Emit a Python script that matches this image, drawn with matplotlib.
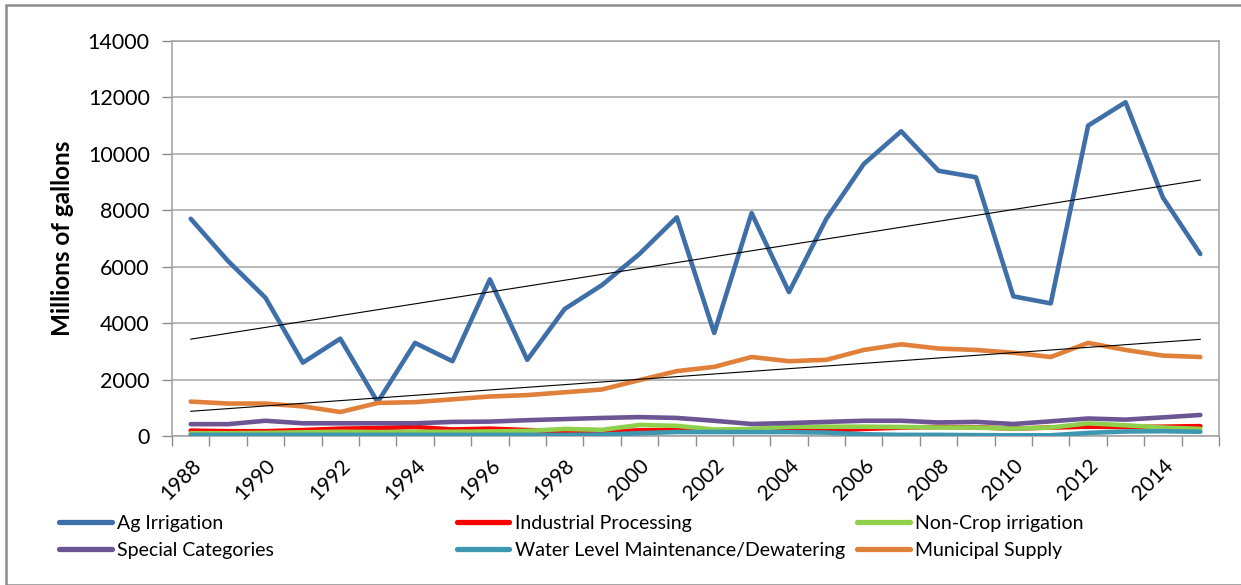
import numpy as np
import matplotlib.pyplot as plt
from matplotlib.patches import Rectangle
from matplotlib.lines import Line2D

# ============ data ============
YEARS = list(range(1988, 2016))

AG_IRRIGATION = [7700, 6200, 4900, 2600, 3450, 1200, 3300, 2650, 5550, 2700,
                 4500, 5350, 6450, 7750, 3650, 7900, 5100, 7700, 9640, 10800,
                 9400, 9170, 4950, 4700, 11000, 11830, 8450, 6450]
INDUSTRIAL = [190, 170, 170, 210, 260, 280, 320, 230, 260, 210,
              170, 160, 200, 210, 200, 190, 180, 190, 250, 300,
              320, 310, 260, 300, 330, 320, 330, 350]
NON_CROP = [100, 100, 110, 130, 150, 140, 150, 150, 160, 180,
            250, 220, 390, 360, 230, 250, 330, 330, 330, 320,
            300, 300, 260, 300, 450, 380, 300, 250]
SPECIAL = [420, 420, 540, 450, 450, 450, 450, 500, 510, 560,
           600, 640, 670, 640, 540, 425, 460, 500, 540, 540,
           480, 500, 425, 520, 620, 580, 660, 745]
WATER_LEVEL = [40, 40, 40, 40, 40, 40, 40, 40, 40, 40,
               40, 50, 100, 140, 140, 140, 140, 120, 60, 40,
               40, 30, 25, 25, 110, 160, 170, 150]
MUNICIPAL = [1220, 1150, 1150, 1050, 850, 1170, 1200, 1300, 1400, 1450,
             1550, 1650, 1980, 2300, 2450, 2800, 2650, 2700, 3050, 3250,
             3100, 3050, 2950, 2800, 3300, 3050, 2850, 2800]

SERIES = [
    ("Ag Irrigation", AG_IRRIGATION, "#3f6fa8"),
    ("Industrial Processing", INDUSTRIAL, "#ff0000"),
    ("Non-Crop irrigation", NON_CROP, "#8fcf4c"),
    ("Special Categories", SPECIAL, "#6b5593"),
    ("Water Level Maintenance/Dewatering", WATER_LEVEL, "#3e97b0"),
    ("Municipal Supply", MUNICIPAL, "#e0803a"),
]
TREND_SERIES = [AG_IRRIGATION, MUNICIPAL]

plt.rcParams['font.family'] = ['Lato', 'DejaVu Sans']

W, H = 1241, 585
fig = plt.figure(figsize=(W / 100, H / 100), dpi=100)

# outer chart border (right/bottom edges fall outside the crop)
fig.patches.append(Rectangle((6 / W, 0), 2, 1 - 5 / H, transform=fig.transFigure,
                             fill=False, edgecolor="#8c8c8c", linewidth=1.8))

ax = fig.add_axes([172 / W, 1 - 436 / H, (1219 - 172) / W, (436 - 41) / H])

x = np.arange(len(YEARS))
for name, vals, color in SERIES:
    ax.plot(x, vals, color=color, linewidth=3.3, solid_capstyle='round',
            solid_joinstyle='round', label=name, zorder=3)

# linear trend lines
for vals in TREND_SERIES:
    k, b = np.polyfit(x, vals, 1)
    ax.plot(x, k * x + b, color="black", linewidth=0.8, zorder=4)

ax.set_xlim(-0.5, len(YEARS) - 0.5)
ax.set_ylim(0, 14000)
ax.set_yticks(np.arange(0, 14001, 2000))
ax.tick_params(axis='y', labelsize=15.5, colors="#8c8c8c", labelcolor="black",
               length=7, width=1, pad=9)
ax.yaxis.grid(True, color="#a6a6a6", linewidth=1.1)
ax.set_axisbelow(True)

ax.set_xticks(x[::2])
ax.set_xticklabels([str(y) for y in YEARS[::2]], rotation=45, ha='right',
                   va='top', rotation_mode='anchor', fontsize=15)
ax.set_xticks(np.arange(-0.5, len(YEARS)), minor=True)
ax.tick_params(axis='x', which='major', length=0, pad=14)
ax.tick_params(axis='x', which='minor', length=7, width=1, colors="#8c8c8c")

for s in ax.spines.values():
    s.set_color("#a0a0a0")
    s.set_linewidth(1.1)

ax.set_ylabel("Millions of gallons", fontsize=17.5, fontweight='bold', labelpad=10)

# legend: 3 fixed-width columns, 2 rows (row-major like the original)
col_x = [59, 457, 857]
for c, x0 in enumerate(col_x):
    entries = [SERIES[c], SERIES[c + 3]]
    handles = [Line2D([0], [0], color=col, linewidth=3.8, solid_capstyle='round')
               for _, _, col in entries]
    fig.legend(handles, [n for n, _, _ in entries], loc='upper left',
               bbox_to_anchor=(x0 / W, 1 - 515 / H), frameon=False,
               fontsize=14, handlelength=2.7, handletextpad=0.3,
               labelspacing=0.5, borderpad=0, borderaxespad=0)

fig.savefig("out.png", dpi=100)
